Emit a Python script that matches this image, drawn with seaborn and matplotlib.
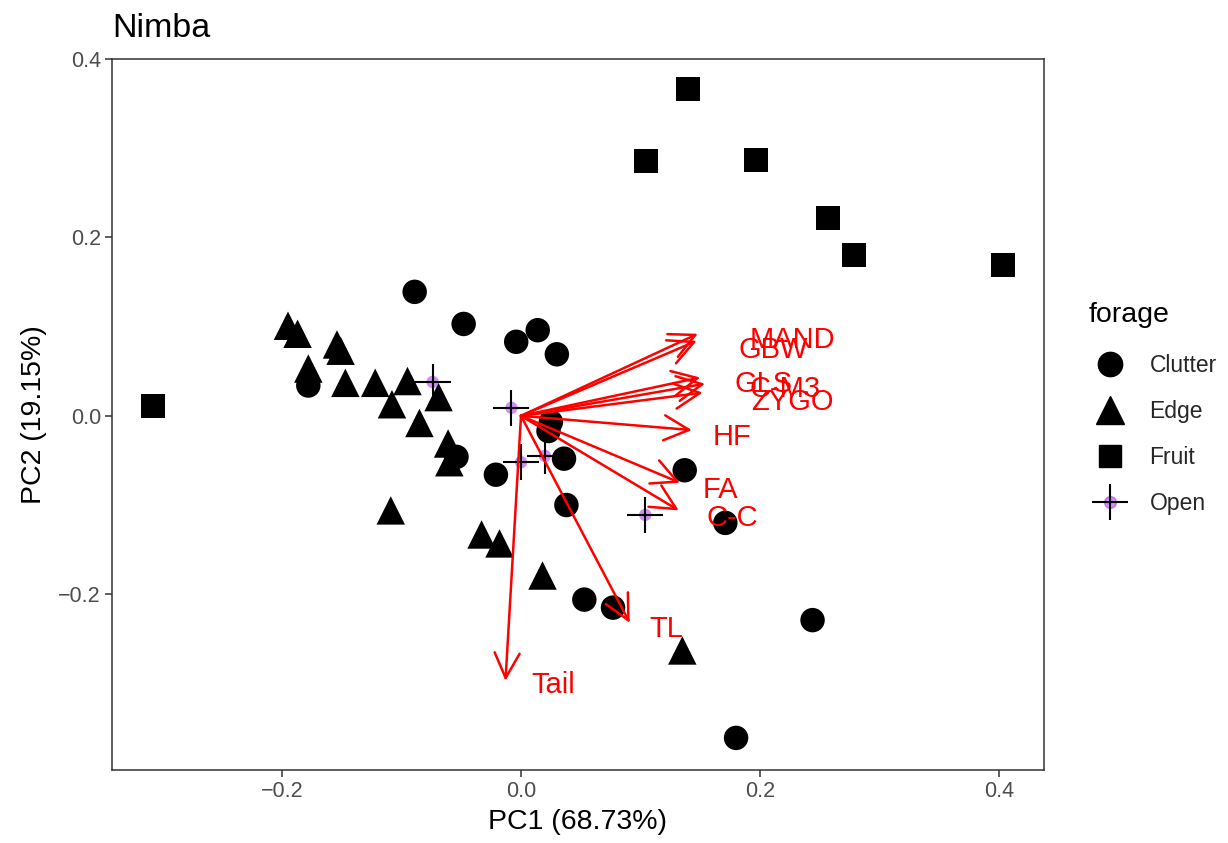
import pandas as pd
import seaborn as sns
import matplotlib.pyplot as plt
from matplotlib.lines import Line2D

# PCA scores (PC1, PC2)
clutter_pc1 = [-0.089, -0.048, -0.004, 0.014, 0.030, -0.178, -0.054, -0.021, 0.025,
               0.023, 0.036, 0.038, 0.137, 0.171, 0.053, 0.077, 0.244, 0.180]
clutter_pc2 = [0.139, 0.103, 0.083, 0.096, 0.069, 0.034, -0.046, -0.066, -0.007,
               -0.017, -0.048, -0.100, -0.061, -0.120, -0.206, -0.215, -0.229, -0.361]

edge_pc1 = [-0.195, -0.187, -0.178, -0.154, -0.151, -0.147, -0.122, -0.108, -0.095,
            -0.069, -0.085, -0.061, -0.060, -0.109, -0.033, -0.018, 0.018, 0.135]
edge_pc2 = [0.101, 0.092, 0.053, 0.080, 0.073, 0.037, 0.037, 0.013, 0.039,
            0.021, -0.008, -0.031, -0.052, -0.106, -0.133, -0.143, -0.179, -0.263]

fruit_pc1 = [0.140, 0.105, 0.197, 0.257, 0.279, 0.403, -0.308]
fruit_pc2 = [0.366, 0.286, 0.287, 0.222, 0.180, 0.169, 0.011]

open_pc1 = [-0.074, -0.008, 0.000, 0.020, 0.104]
open_pc2 = [0.038, 0.009, -0.052, -0.045, -0.111]

# loadings (arrow tips) and where their labels sit
var_names = ["MAND", "GBW", "GLS", "C-M3", "ZYGO", "HF", "FA", "C-C", "TL", "Tail"]
load_pc1 = [0.148, 0.147, 0.150, 0.154, 0.152, 0.143, 0.133, 0.132, 0.091, -0.013]
load_pc2 = [0.092, 0.084, 0.043, 0.036, 0.026, -0.016, -0.075, -0.106, -0.232, -0.297]
lab_pc1 = [0.227, 0.211, 0.203, 0.221, 0.227, 0.177, 0.167, 0.177, 0.122, 0.027]
lab_pc2 = [0.085, 0.074, 0.036, 0.030, 0.016, -0.024, -0.083, -0.114, -0.239, -0.302]

forage_levels = ["Clutter", "Edge", "Fruit", "Open"]

sns.set_theme(style="white")
plt.rcParams['font.family'] = ['Liberation Sans', 'DejaVu Sans']

dpi = 100
fig = plt.figure(figsize=(1228 / dpi, 843 / dpi), dpi=dpi)
ax = fig.add_axes([112 / 1228, 1 - 770 / 843, (1044 - 112) / 1228, (770 - 59) / 843])

# filled shapes
sns.scatterplot(x=clutter_pc1, y=clutter_pc2, marker="o", s=310, color="black",
                edgecolor="none", ax=ax, legend=False)
sns.scatterplot(x=edge_pc1, y=edge_pc2, marker="^", s=420, color="black",
                edgecolor="none", ax=ax, legend=False)
sns.scatterplot(x=fruit_pc1, y=fruit_pc2, marker="s", s=300, color="black",
                edgecolor="none", ax=ax, legend=False)
# open: purple dot under a black plus
sns.scatterplot(x=open_pc1, y=open_pc2, marker="o", s=80, color="#A020F0", alpha=0.5,
                edgecolor="none", ax=ax, legend=False)
sns.scatterplot(x=open_pc1, y=open_pc2, marker="+", s=680, color="black",
                linewidth=1.5, ax=ax, legend=False)

# loading arrows
for name, x, y, lx, ly in zip(var_names, load_pc1, load_pc2, lab_pc1, lab_pc2):
    ax.annotate("", xy=(x, y), xytext=(0, 0),
                arrowprops=dict(arrowstyle="->,head_length=0.9,head_width=0.45",
                                color="red", lw=1.8, shrinkA=0, shrinkB=0,
                                mutation_scale=20))
    ax.text(lx, ly, name, color="red", fontsize=21, ha="center", va="center")

ax.set_xlim(-0.3423, 0.4377)
ax.set_ylim(-0.397, 0.4)
ax.set_xticks([-0.2, 0.0, 0.2, 0.4])
ax.set_yticks([-0.2, 0.0, 0.2, 0.4])
ax.set_xticklabels(["\u22120.2", "0.0", "0.2", "0.4"])
ax.set_yticklabels(["\u22120.2", "0.0", "0.2", "0.4"])
ax.tick_params(axis="both", direction="out", length=5, width=1.1, color="#333333",
               labelsize=15.5, labelcolor="#4D4D4D", bottom=True, left=True, pad=3)
for sp in ax.spines.values():
    sp.set_color("#333333")
    sp.set_linewidth(1.1)
ax.set_xlabel("PC1 (68.73%)", fontsize=20.5, color="black", labelpad=5)
ax.set_ylabel("PC2 (19.15%)", fontsize=20.5, color="black", labelpad=8)
ax.set_title("Nimba", loc="left", fontsize=24.5, color="black", pad=16)

# legend (title drawn separately so it lines up like ggplot's)
handles = [
    Line2D([], [], marker="o", color="black", linestyle="none", markersize=17.5),
    Line2D([], [], marker="^", color="black", linestyle="none", markersize=20.5),
    Line2D([], [], marker="s", color="black", linestyle="none", markersize=16.5),
    (Line2D([], [], marker="o", color="#A020F0", alpha=0.5, linestyle="none", markersize=8.5),
     Line2D([], [], marker="+", color="black", linestyle="none", markersize=26,
            markeredgewidth=1.5)),
]
ax.legend(handles, forage_levels, loc="center left",
          bbox_to_anchor=((1099 - 112) / 932, (770 - 434.5) / 711), frameon=False,
          fontsize=16.5, labelspacing=1.0, handletextpad=1.2, handlelength=1.0,
          borderaxespad=0, borderpad=0)
fig.text(1089 / 1228, 1 - 315 / 843, "forage", fontsize=20.5, color="black",
         ha="left", va="center")

plt.savefig("out.png", dpi=dpi)
